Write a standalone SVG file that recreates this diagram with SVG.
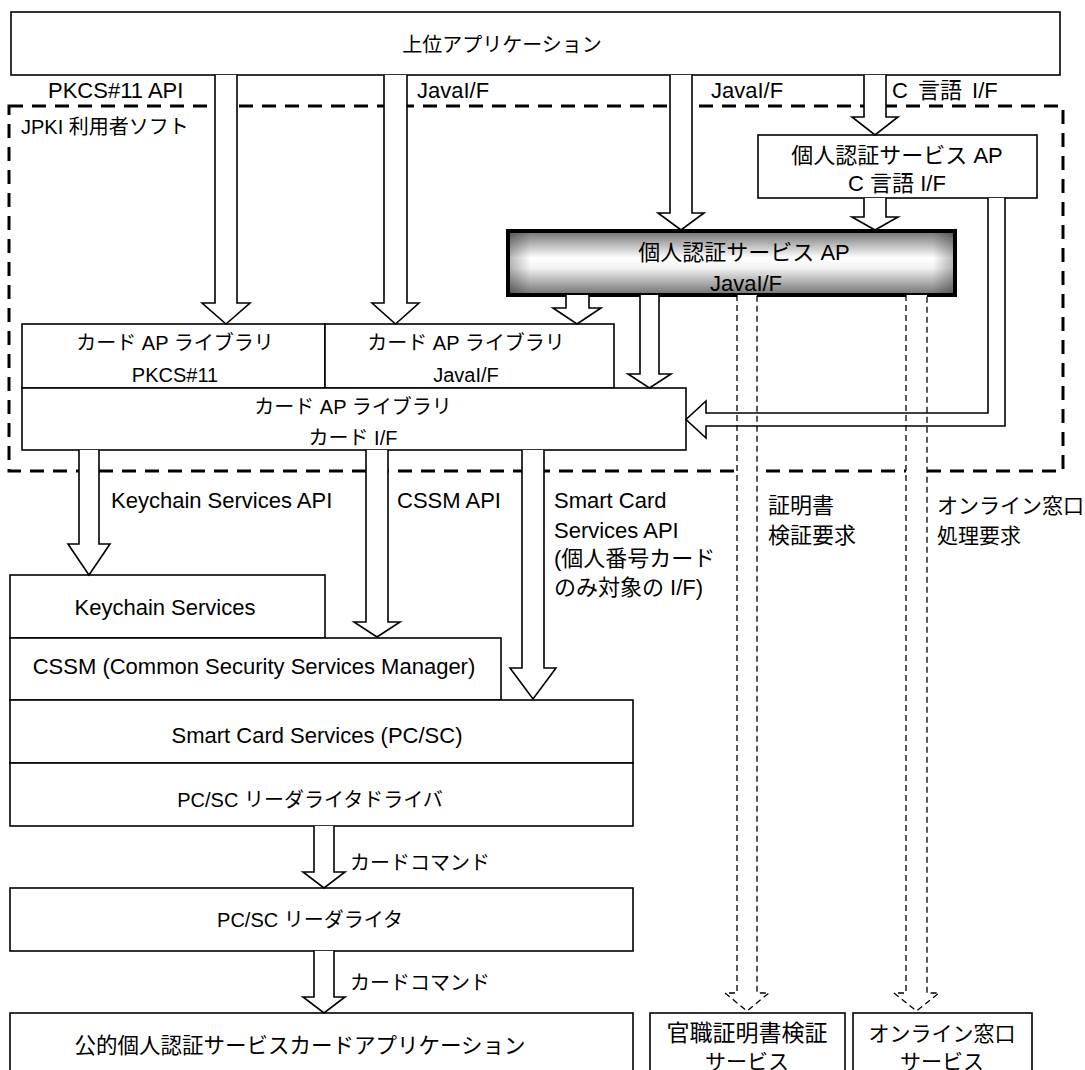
<svg xmlns="http://www.w3.org/2000/svg" width="1085" height="1070" viewBox="0 0 1085 1070">
<defs>
<linearGradient id="gv" x1="0" y1="0" x2="0" y2="1">
<stop offset="0" stop-color="#707070"/>
<stop offset="0.42" stop-color="#ffffff"/>
<stop offset="0.58" stop-color="#f2f2f2"/>
<stop offset="1" stop-color="#707070"/>
</linearGradient>
<linearGradient id="gh" x1="0" y1="0" x2="1" y2="0">
<stop offset="0" stop-color="#000" stop-opacity="0.3"/>
<stop offset="0.05" stop-color="#000" stop-opacity="0"/>
<stop offset="0.95" stop-color="#000" stop-opacity="0"/>
<stop offset="1" stop-color="#000" stop-opacity="0.3"/>
</linearGradient>
</defs>
<style>
text{font-family:"Liberation Sans","Noto Sans CJK JP",sans-serif;font-size:22px;fill:#000}
.c{text-anchor:middle}
.s20{font-size:20px}
.s21{font-size:21px}
.box{fill:#fff;stroke:#000;stroke-width:1.6}
.arr{fill:#fff;stroke:#000;stroke-width:1.6;stroke-linejoin:miter}
.darr{fill:#fff;stroke:#000;stroke-width:1.3;stroke-dasharray:6 4}
.frame{fill:none;stroke:#000;stroke-width:3;stroke-dasharray:14 9}
</style>
<rect width="1085" height="1070" fill="#fff"/>

<g id="jpki-frame">
<rect class="frame" x="9" y="106" width="1054" height="365"/>
<text class="s20" x="21" y="134">JPKI 利用者ソフト</text>
</g>

<g id="top-app">
<rect class="box" x="11" y="12" width="1049" height="63"/>
<text class="c s20" x="502" y="52">上位アプリケーション</text>
</g>

<g id="c-ap">
<rect class="box" x="758" y="135" width="279" height="63"/>
<text class="c" x="897" y="163">個人認証サービス AP</text>
<text class="c" x="897" y="191">C 言語 I/F</text>
</g>

<g id="java-ap">
<rect x="508" y="231" width="447" height="64" fill="url(#gv)"/>
<rect x="508" y="231" width="447" height="64" fill="url(#gh)" stroke="#000" stroke-width="4"/>
<text class="c" x="744" y="260">個人認証サービス AP</text>
<text class="c" x="746" y="291">JavaI/F</text>
</g>

<g id="card-pkcs">
<rect class="box" x="22" y="324" width="303" height="64"/>
<text class="c s20" x="175" y="350">カード AP ライブラリ</text>
<text class="c s20" x="175" y="382">PKCS#11</text>
</g>
<g id="card-java">
<rect class="box" x="325" y="324" width="289" height="64"/>
<text class="c s20" x="466" y="350">カード AP ライブラリ</text>
<text class="c s20" x="466" y="382">JavaI/F</text>
</g>
<g id="card-if">
<rect class="box" x="22" y="388" width="664" height="62"/>
<text class="c s20" x="353" y="414">カード AP ライブラリ</text>
<text class="c s20" x="353" y="445">カード I/F</text>
</g>

<g id="keychain">
<rect class="box" x="10" y="575" width="315" height="63"/>
<text class="c" x="165" y="615">Keychain Services</text>
</g>
<g id="cssm">
<rect class="box" x="10" y="638" width="491" height="62"/>
<text class="c" x="254" y="674">CSSM (Common Security Services Manager)</text>
</g>
<g id="smartcard">
<rect class="box" x="10" y="700" width="623" height="63"/>
<text class="c" x="317" y="743">Smart Card Services (PC/SC)</text>
</g>
<g id="driver">
<rect class="box" x="10" y="763" width="623" height="63"/>
<text class="c s20" x="310" y="807">PC/SC リーダライタドライバ</text>
</g>
<g id="reader">
<rect class="box" x="10" y="888" width="623" height="63"/>
<text class="c s20" x="310" y="927">PC/SC リーダライタ</text>
</g>
<g id="card-app">
<rect class="box" x="10" y="1013" width="623" height="70"/>
<text class="c" x="300" y="1053" style="font-size:21.5px">公的個人認証サービスカードアプリケーション</text>
</g>
<g id="verify-svc">
<rect class="box" x="650" y="1013" width="195" height="70"/>
<text class="c" x="747" y="1041" style="font-size:23px">官職証明書検証</text>
<text class="c s21" x="747" y="1069">サービス</text>
</g>
<g id="online-svc">
<rect class="box" x="853" y="1013" width="179" height="70"/>
<text class="c s21" x="942" y="1041">オンライン窓口</text>
<text class="c s21" x="942" y="1069">サービス</text>
</g>

<g id="connectors">
<path class="arr" d="M215,75 V303 H202 L226,324 L250,303 H237 V75"/>
<path class="arr" d="M384,75 V303 H372 L395.5,324 L419,303 H407 V75"/>
<path class="arr" d="M670,75 V213 H658 L681,230 L704,213 H692 V75"/>
<path class="arr" d="M864,75 V117 H852 L875,135 L898,117 H886 V75"/>
<path class="arr" d="M864,198 V217 H852 L875,230 L898,217 H886 V198"/>
<path class="arr" d="M566,295 V308 H553 L577,324 L601,308 H589 V295"/>
<path class="arr" d="M640,295 V374 H628 L649.5,388 L671,374 H659 V295"/>
<path fill="#fff" stroke="none" d="M988,198 V413 H706 V401 L686,419.5 L706,438 V426 H1005 V198 Z"/>
<path class="darr" d="M737,295 V993 H725 L747,1011 L769,993 H757 V295"/>
<path class="darr" d="M906,295 V993 H894 L916.5,1011 L939,993 H927 V295"/>
<path class="arr" style="fill:none" d="M988,198 V413 H706 V401 L686,419.5 L706,438 V426 H1005 V198"/>
<path class="arr" d="M79,450 V544 H68 L89,575 L110,544 H99 V450"/>
<path class="arr" d="M366,450 V622 H354 L377,637 L400,622 H388 V450"/>
<path class="arr" d="M522,450 V668 H510 L533,699 L556,668 H544 V450"/>
<path class="arr" d="M314,826 V872 H303 L324,888 L345,872 H334 V826"/>
<path class="arr" d="M314,951 V997 H303 L324,1013 L345,997 H334 V951"/>
</g>

<g id="labels">
<text x="48" y="98">PKCS#11 API</text>
<text x="417" y="98">JavaI/F</text>
<text x="711" y="98">JavaI/F</text>
<text x="892" y="98" style="word-spacing:4px">C 言語 I/F</text>
<text x="111" y="508">Keychain Services API</text>
<text x="397" y="508">CSSM API</text>
<text x="554" y="508">Smart Card</text>
<text x="554" y="538">Services API</text>
<text x="554" y="566">(個人番号カード</text>
<text x="554" y="595">のみ対象の I/F)</text>
<text x="768" y="513">証明書</text>
<text x="768" y="543">検証要求</text>
<text class="s21" x="937" y="513">オンライン窓口</text>
<text class="s21" x="937" y="543">処理要求</text>
<text class="s20" x="350" y="870">カードコマンド</text>
<text class="s20" x="350" y="990">カードコマンド</text>
</g>
</svg>
